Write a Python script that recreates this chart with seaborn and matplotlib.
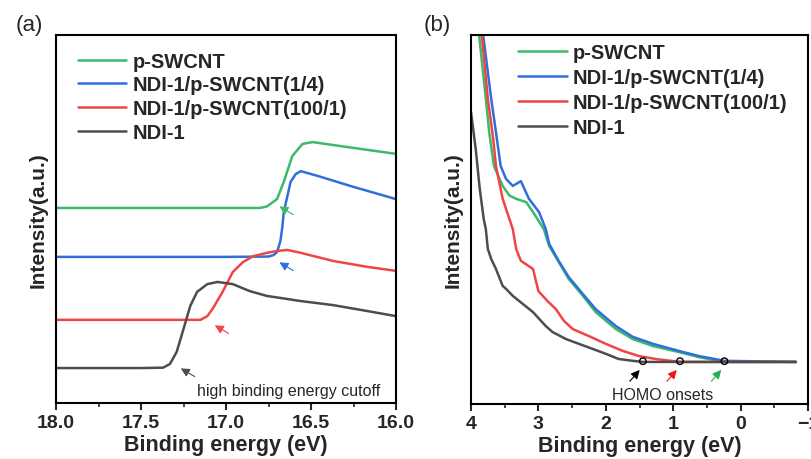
import matplotlib
matplotlib.use('Agg')
import matplotlib.pyplot as plt
import seaborn as sns
from matplotlib.ticker import MultipleLocator, FormatStrFormatter

sns.set_style('ticks')
plt.rcParams['font.family'] = ['Liberation Sans', 'DejaVu Sans']

# --- datos panel (a): corte de alta energia de enlace ---
e_green_a = [18.0, 17.0, 16.80, 16.76, 16.70, 16.66, 16.61, 16.55, 16.49, 16.37, 16.17, 16.0]
i_green_a = [53.0, 53.0, 53.0, 53.4, 55.4, 60.1, 67.1, 70.4, 70.9, 70.1, 68.8, 67.7]

e_blue_a = [18.0, 17.0, 16.75, 16.72, 16.70, 16.68, 16.67, 16.66, 16.62, 16.59, 16.56, 16.46, 16.27, 16.0]
i_blue_a = [39.7, 39.7, 39.8, 40.2, 41.0, 44.0, 47.3, 51.9, 60.1, 62.2, 63.0, 61.7, 59.0, 55.4]

e_red_a = [18.0, 17.3, 17.15, 17.11, 17.08, 17.02, 16.96, 16.90, 16.84, 16.76, 16.70, 16.64,
           16.56, 16.37, 16.17, 16.0]
i_red_a = [22.6, 22.6, 22.6, 23.6, 25.5, 30.2, 35.6, 38.3, 39.9, 40.8, 41.3, 41.6,
           40.8, 38.6, 37.0, 35.9]

e_black_a = [18.0, 17.5, 17.37, 17.33, 17.29, 17.25, 17.21, 17.17, 17.11, 17.05, 16.96, 16.86,
             16.76, 16.56, 16.37, 16.17, 16.0]
i_black_a = [9.5, 9.5, 9.6, 10.6, 13.9, 20.1, 26.4, 30.2, 32.3, 32.9, 32.3, 30.4,
             29.1, 27.7, 26.6, 25.0, 23.6]

# energias de corte senaladas con flechas (punta de la flecha)
cutoff_e = [16.70, 16.70, 17.08, 17.28]
cutoff_i = [53.8, 38.6, 21.5, 9.8]

# --- datos panel (b): region HOMO ---
e_green_b = [4.0, 3.88, 3.78, 3.73, 3.66, 3.53, 3.43, 3.33, 3.18, 3.08, 2.92, 2.84, 2.70,
             2.55, 2.34, 2.15, 1.85, 1.60, 1.30, 0.92, 0.62, 0.24, -0.82]
i_green_b = [121, 100, 82.7, 73.7, 64.5, 59.1, 56.5, 55.6, 54.7, 52.0, 47.4, 42.8, 38.5,
             33.9, 29.3, 24.9, 20.3, 17.6, 15.7, 14.1, 12.7, 11.4, 11.4]

e_blue_b = [4.0, 3.82, 3.70, 3.63, 3.56, 3.48, 3.38, 3.26, 3.14, 2.99, 2.89, 2.84, 2.70,
            2.55, 2.34, 2.15, 1.85, 1.60, 1.30, 0.92, 0.62, 0.24, -0.82]
i_blue_b = [126, 100, 82.7, 73.7, 64.5, 61.0, 59.1, 60.4, 55.6, 52.0, 47.4, 43.4, 38.8,
            34.4, 29.8, 25.7, 21.1, 18.2, 16.3, 14.4, 13.0, 11.7, 11.4]

e_red_b = [4.0, 3.84, 3.75, 3.67, 3.63, 3.53, 3.38, 3.33, 3.26, 3.08, 3.0, 2.87, 2.74, 2.62,
           2.49, 2.25, 2.0, 1.75, 1.51, 1.26, 0.9, -0.82]
i_red_b = [131, 100, 82.7, 71.8, 64.5, 55.6, 47.4, 42.0, 38.8, 36.6, 30.6, 28.0, 25.7, 22.5,
           20.3, 18.4, 16.3, 14.4, 13.0, 12.2, 11.4, 11.4]

e_black_b = [4.0, 3.93, 3.87, 3.81, 3.78, 3.75, 3.70, 3.63, 3.53, 3.48, 3.38, 3.23, 3.08,
             2.89, 2.79, 2.59, 2.40, 2.19, 2.0, 1.81, 1.60, 1.45, -0.82]
i_black_b = [79.1, 69.1, 58.3, 50.0, 47.4, 42.0, 39.3, 36.6, 32.0, 31.2, 29.3, 27.1, 24.9,
             21.1, 19.5, 17.6, 16.3, 14.9, 13.6, 12.2, 11.7, 11.4, 11.4]

homo_onsets = [1.45, 0.90, 0.24]
homo_base = 11.6

labels = ['p-SWCNT', 'NDI-1/p-SWCNT(1/4)', 'NDI-1/p-SWCNT(100/1)', 'NDI-1']
colors = ['#3cb96a', '#2f6fdc', '#f04545', '#4d4d4d']

fig = plt.figure(figsize=(8.12, 4.6), dpi=100)
ax_a = fig.add_axes([56 / 812, 56 / 460, 340 / 812, 368 / 460])
ax_b = fig.add_axes([471 / 812, 55 / 460, 337 / 812, 369 / 460])

series_a = [(e_green_a, i_green_a), (e_blue_a, i_blue_a), (e_red_a, i_red_a), (e_black_a, i_black_a)]
series_b = [(e_green_b, i_green_b), (e_blue_b, i_blue_b), (e_red_b, i_red_b), (e_black_b, i_black_b)]

for ax, series in [(ax_a, series_a), (ax_b, series_b)]:
    for (x, y), lab, col in zip(series, labels, colors):
        sns.lineplot(x=x, y=y, color=col, label=lab, lw=1.8, ax=ax)

def style_axes(ax, anchor, spacing):
    for s in ax.spines.values():
        s.set_linewidth(1.5)
        s.set_color('black')
    ax.set_yticks([])
    ax.set_ylabel('Intensity(a.u.)', fontsize=15, fontweight='bold', labelpad=6)
    ax.set_xlabel('Binding energy (eV)', fontsize=15.5, fontweight='bold', labelpad=2)
    ax.tick_params(axis='x', which='major', direction='out', length=5, width=1.5,
                   labelsize=14, pad=3)
    ax.tick_params(axis='x', which='minor', direction='out', length=3, width=1.2)
    for t in ax.get_xticklabels():
        t.set_fontweight('bold')
    ax.legend(loc='upper left', frameon=False, prop={'size': 14.5, 'weight': 'bold'},
              handlelength=2.4, handletextpad=0.3, labelspacing=spacing,
              borderaxespad=0, borderpad=0, bbox_to_anchor=anchor)

# panel (a)
ax_a.set_xlim(18.0, 16.0)
ax_a.set_ylim(0, 100)
ax_a.xaxis.set_major_locator(MultipleLocator(0.5))
ax_a.xaxis.set_minor_locator(MultipleLocator(0.25))
ax_a.xaxis.set_major_formatter(FormatStrFormatter('%.1f'))
style_axes(ax_a, (0.065, 0.955), 0.24)

for e, i, col in zip(cutoff_e, cutoff_i, colors):
    ax_a.annotate('', xy=(e, i), xytext=(e - 0.11, i - 3.0),
                  arrowprops=dict(arrowstyle='-|>', color=col, lw=0.8, mutation_scale=13))
ax_a.text(17.17, 3.5, 'high binding energy cutoff', fontsize=11.5, ha='left', va='center')

# panel (b)
ax_b.set_xlim(4, -1)
ax_b.set_ylim(0, 100)
ax_b.xaxis.set_major_locator(MultipleLocator(1))
ax_b.xaxis.set_minor_locator(MultipleLocator(0.5))

sns.scatterplot(x=homo_onsets, y=[homo_base] * len(homo_onsets), ax=ax_b, s=22,
                facecolor='none', edgecolor='black', linewidth=1.0, zorder=5, legend=False)
style_axes(ax_b, (0.14, 0.978), 0.3)

for e, col in zip(homo_onsets, ['black', '#f01515', '#20b050']):
    ax_b.annotate('', xy=(e + 0.02, 9.8), xytext=(e + 0.22, 5.6),
                  arrowprops=dict(arrowstyle='-|>', color=col, lw=0.8, mutation_scale=13))
ax_b.text(1.16, 2.7, 'HOMO onsets', fontsize=11.5, ha='center', va='center')

fig.text(29 / 812, 1 - 25 / 460, '(a)', fontsize=16, ha='center', va='center')
fig.text(437 / 812, 1 - 25 / 460, '(b)', fontsize=16, ha='center', va='center')

fig.savefig('out.png', dpi=100)
